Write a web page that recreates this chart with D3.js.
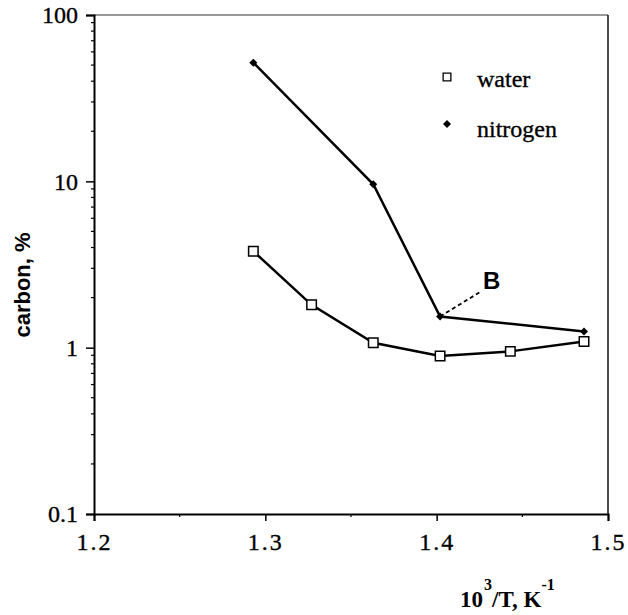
<!DOCTYPE html>
<html>
<head>
<meta charset="utf-8">
<script src="https://cdn.jsdelivr.net/npm/d3@7"></script>
<style>
  body { margin: 0; background: #fff; }
  svg { display: block; }
</style>
</head>
<body>
<svg id="chart" width="628" height="615"></svg>
<script>
var waterX = [1.293, 1.327, 1.363, 1.402, 1.443, 1.486]
var waterY = [3.8, 1.81, 1.07, 0.89, 0.95, 1.09]
var nitrogenX = [1.293, 1.363, 1.402, 1.486]
var nitrogenY = [51.7, 9.6, 1.54, 1.25]
var xTicks = [1.2, 1.3, 1.4, 1.5]
var xMinor = [1.25, 1.35, 1.45]
var yTicks = [0.1, 1, 10, 100]
var yTickLabels = ["0.1", "1", "10", "100"]
var legendNames = ["water", "nitrogen"]

var svg = d3.select("#chart")
var plotLeft = 94, plotRight = 608, plotTop = 15, plotBottom = 514

var x = d3.scaleLinear().domain([1.2, 1.5]).range([plotLeft, plotRight])
var y = d3.scaleLog().domain([0.1, 100]).range([plotBottom, plotTop])

var water = waterX.map((v, i) => ({x: v, y: waterY[i]}))
var nitrogen = nitrogenX.map((v, i) => ({x: v, y: nitrogenY[i]}))

// serif text in the scan looks a bit heavier than plain Times
var inked = (sel) => sel.attr("stroke", "#000").attr("stroke-width", 0.35)

// frame
svg.append("line").attr("x1", plotLeft).attr("x2", plotRight).attr("y1", plotTop).attr("y2", plotTop)
    .attr("stroke", "#333").attr("stroke-width", 1.2)
svg.append("line").attr("x1", plotRight).attr("x2", plotRight).attr("y1", plotTop).attr("y2", plotBottom)
    .attr("stroke", "#111").attr("stroke-width", 1.5)

// y axis
let yMinor = []
for (let d = 0.1; d < 100; d *= 10) {
    for (let k = 2; k <= 9; k++) yMinor.push(+(d * k).toPrecision(3))
}
let yAxis = d3.axisLeft(y).tickValues(yTicks)
    .tickFormat((d, i) => yTickLabels[i]).tickSize(8).tickPadding(8)
svg.append("g").attr("transform", `translate(${plotLeft},0)`).call(yAxis)
    .call(g => g.select(".domain").attr("stroke-width", 2))
    .call(g => g.selectAll(".tick line").attr("stroke-width", 1.5))
    .call(g => g.selectAll("text").attr("font-family", "Liberation Serif").attr("font-size", 24)
        .attr("fill", "#000").call(inked))
svg.append("g").selectAll("line").data(yMinor).join("line")
    .attr("x1", plotLeft - 3).attr("x2", plotLeft)
    .attr("y1", d => y(d)).attr("y2", d => y(d))
    .attr("stroke", "#000").attr("stroke-width", 1.2)

// x axis
let xAxis = d3.axisBottom(x).tickValues(xTicks)
    .tickFormat(d3.format(".1f")).tickSize(7).tickPadding(12)
svg.append("g").attr("transform", `translate(0,${plotBottom})`).call(xAxis)
    .call(g => g.select(".domain").attr("stroke-width", 2))
    .call(g => g.selectAll(".tick line").attr("stroke-width", 1.5))
    .call(g => g.selectAll("text").attr("font-family", "Liberation Serif").attr("font-size", 24)
        .attr("letter-spacing", 2).attr("fill", "#000").call(inked))
svg.append("g").selectAll("line").data(xMinor).join("line")
    .attr("x1", d => x(d)).attr("x2", d => x(d))
    .attr("y1", plotBottom).attr("y2", plotBottom + 3)
    .attr("stroke", "#000").attr("stroke-width", 1.2)

// titles
svg.append("text")
    .attr("transform", "translate(30,285) rotate(-90)")
    .attr("text-anchor", "middle")
    .attr("font-family", "Liberation Sans").attr("font-weight", "bold").attr("font-size", 22)
    .text("carbon, %")

let xt = svg.append("text").attr("x", 460).attr("y", 607)
    .attr("font-family", "Liberation Serif").attr("font-weight", "bold").attr("font-size", 23)
xt.append("tspan").text("10")
xt.append("tspan").attr("dx", 1).attr("dy", -17).attr("font-size", 16).text("3")
xt.append("tspan").attr("dy", 17).text("/T, K")
xt.append("tspan").attr("dy", -17).attr("font-size", 16).text("-1")

// lines
let line = d3.line()
    .x((d) => x(d.x))
    .y((d) => y(d.y))

svg.append("path").datum(nitrogen).attr("d", line)
    .attr("fill", "none").attr("stroke", "#000").attr("stroke-width", 2.5)
svg.append("path").datum(water).attr("d", line)
    .attr("fill", "none").attr("stroke", "#000").attr("stroke-width", 2.5)

// B annotation
let bEnd = {x: 1.4253, y: 2.16}
svg.append("line")
    .attr("x1", x(nitrogen[2].x)).attr("y1", y(nitrogen[2].y))
    .attr("x2", x(bEnd.x)).attr("y2", y(bEnd.y))
    .attr("stroke", "#000").attr("stroke-width", 1.8).attr("stroke-dasharray", "4,3")
svg.append("text").attr("x", x(1.427)).attr("y", y(2.25))
    .attr("font-family", "Liberation Sans").attr("font-weight", "bold").attr("font-size", 24)
    .text("B")

// markers
let square = d3.symbol().type(d3.symbolSquare).size(90)
let diamond = d3.symbol().type(d3.symbolSquare).size(32)

svg.append("g").selectAll("path").data(water).join("path")
    .attr("d", square)
    .attr("transform", d => `translate(${x(d.x)},${y(d.y)})`)
    .attr("fill", "#fff").attr("stroke", "#000").attr("stroke-width", 1.5)
svg.append("g").selectAll("path").data(nitrogen).join("path")
    .attr("d", diamond)
    .attr("transform", d => `translate(${x(d.x)},${y(d.y)}) rotate(45)`)
    .attr("fill", "#000")

// legend
let legend = svg.append("g")
legend.append("path").attr("d", d3.symbol().type(d3.symbolSquare).size(60))
    .attr("transform", "translate(447,77)")
    .attr("fill", "#fff").attr("stroke", "#000").attr("stroke-width", 1.3)
legend.append("path").attr("d", diamond)
    .attr("transform", "translate(447,124) rotate(45)")
    .attr("fill", "#000")
legend.selectAll("text").data(legendNames).join("text")
    .attr("x", 477).attr("y", (d, i) => 87 + i * 49.5)
    .attr("font-family", "Liberation Serif").attr("font-size", 24)
    .call(inked)
    .text(d => d)
</script>
</body>
</html>
